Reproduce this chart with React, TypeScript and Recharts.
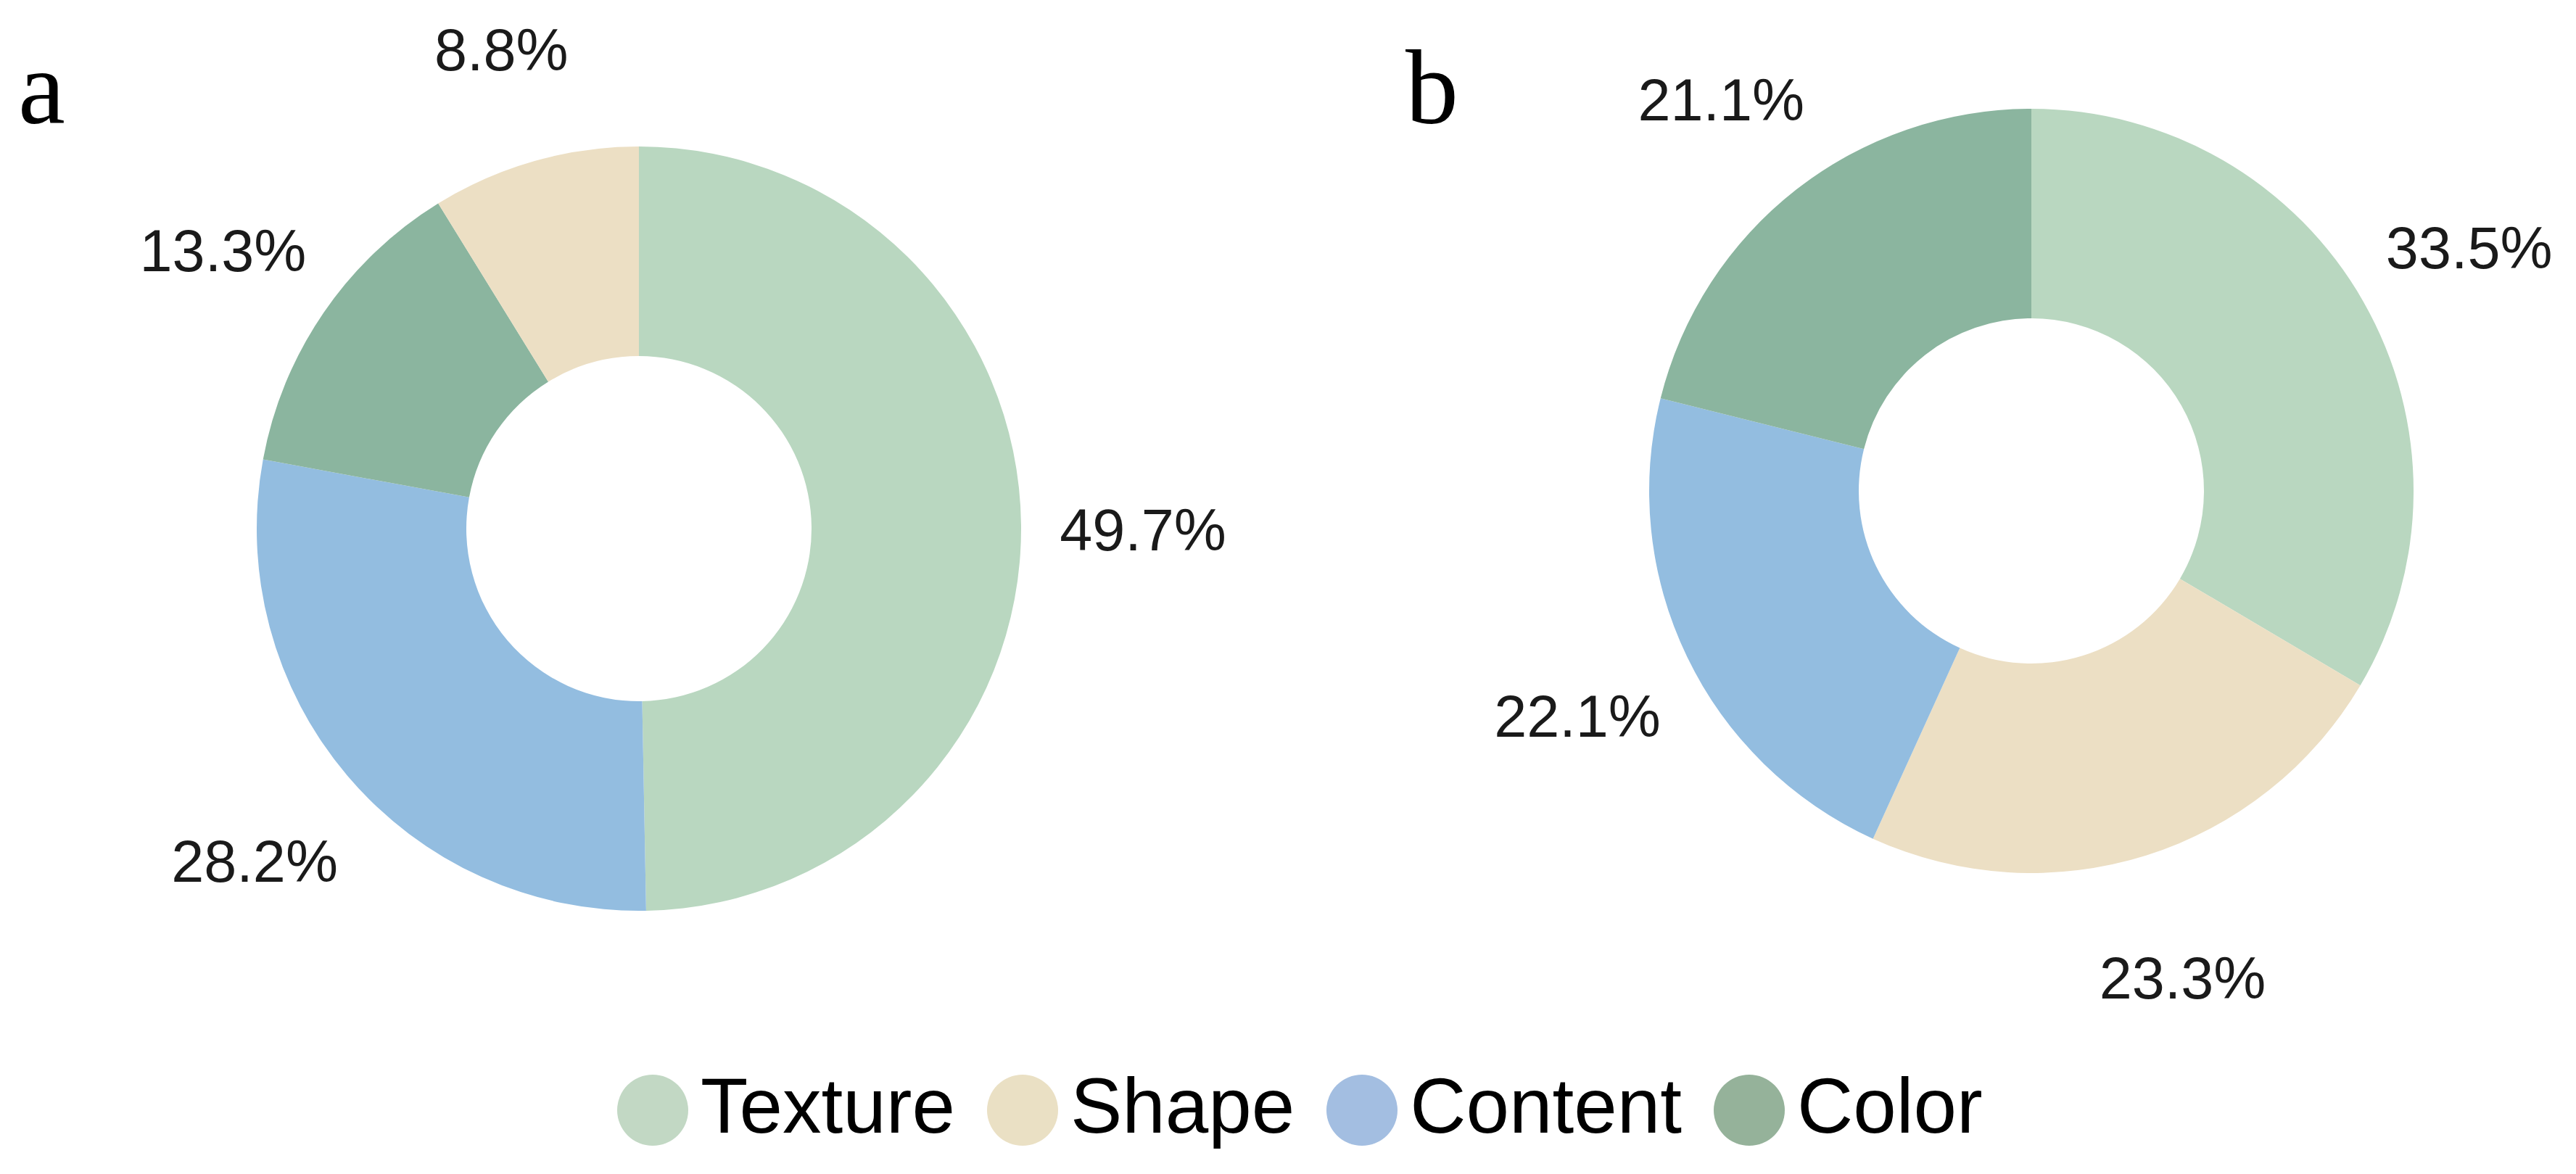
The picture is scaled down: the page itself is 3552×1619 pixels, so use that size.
import React from "react";
import { PieChart, Pie, Cell, Legend } from "recharts";

const categories = ["Texture", "Shape", "Content", "Color"];
// percentages per category, same order as categories
const valuesA = [49.7, 8.8, 28.2, 13.3];
const valuesB = [33.5, 23.3, 22.1, 21.1];
// clockwise slice order starting at 12 o'clock
const orderA = ["Texture", "Content", "Color", "Shape"];
const orderB = ["Texture", "Shape", "Content", "Color"];

const sliceColors: Record<string, string> = {
    Texture: "#B9D7C0",
    Shape: "#ECDFC4",
    Content: "#93BDE0",
    Color: "#8BB59F",
};

const legendColors: Record<string, string> = {
    Texture: "#C2D8C4",
    Shape: "#EAE0C4",
    Content: "#A3BEE1",
    Color: "#95B29A",
};

function buildData(values: number[], order: string[]) {
    return order.map((name) => ({
        name,
        value: values[categories.indexOf(name)],
    }));
}

const dataA = buildData(valuesA, orderA);
const dataB = buildData(valuesB, orderB);

const RADIAN = Math.PI / 180;

const renderLabel = (props: any) => {
    const { cx, cy, midAngle, outerRadius, value } = props;
    const r = outerRadius + 168;
    const x = cx + r * Math.cos(-midAngle * RADIAN);
    const y = cy + r * Math.sin(-midAngle * RADIAN) + 9;
    return (
        <text
            x={x}
            y={y}
            textAnchor="middle"
            dominantBaseline="central"
            fontSize={81}
            fill="#1a1a1a"
            fontFamily="'Liberation Sans', Arial, sans-serif"
        >
            {`${value.toFixed(1)}%`}
        </text>
    );
};

const renderLegend = () => (
    <div style={{ display: "flex", alignItems: "center" }}>
        {categories.map((c, i) => (
            <div
                key={c}
                style={{
                    display: "flex",
                    alignItems: "center",
                    marginRight: i < categories.length - 1 ? 44 : 0,
                }}
            >
                <div
                    style={{
                        width: 98,
                        height: 98,
                        borderRadius: "50%",
                        background: legendColors[c],
                        marginRight: 17,
                    }}
                />
                <span
                    style={{
                        fontFamily: "'Liberation Sans', Arial, sans-serif",
                        fontSize: 107,
                        lineHeight: "98px",
                        color: "#000",
                        position: "relative",
                        top: -6,
                    }}
                >
                    {c}
                </span>
            </div>
        ))}
    </div>
);

const panelLetter: React.CSSProperties = {
    position: "absolute",
    fontFamily: "'Liberation Serif', 'Times New Roman', serif",
    fontSize: 146,
    lineHeight: 1,
    color: "#000",
};

export default function App() {
    return (
        <div
            style={{
                position: "absolute",
                left: 0,
                top: 0,
                width: 3552,
                height: 1619,
                background: "#fff",
            }}
        >
            <PieChart
                width={3552}
                height={1619}
                margin={{ top: 0, right: 0, bottom: 0, left: 0 }}
            >
                <Pie
                    data={dataA}
                    dataKey="value"
                    nameKey="name"
                    cx={881}
                    cy={729}
                    innerRadius={238}
                    outerRadius={527}
                    startAngle={90}
                    endAngle={-270}
                    stroke="none"
                    label={renderLabel}
                    labelLine={false}
                    isAnimationActive={false}
                >
                    {dataA.map((d) => (
                        <Cell key={d.name} fill={sliceColors[d.name]} />
                    ))}
                </Pie>
                <Pie
                    data={dataB}
                    dataKey="value"
                    nameKey="name"
                    cx={2801}
                    cy={677}
                    innerRadius={238}
                    outerRadius={527}
                    startAngle={90}
                    endAngle={-270}
                    stroke="none"
                    label={renderLabel}
                    labelLine={false}
                    isAnimationActive={false}
                >
                    {dataB.map((d) => (
                        <Cell key={d.name} fill={sliceColors[d.name]} />
                    ))}
                </Pie>
                <Legend
                    content={renderLegend}
                    wrapperStyle={{
                        position: "absolute",
                        left: 851,
                        top: 1482,
                        bottom: "auto",
                        width: "auto",
                    }}
                />
            </PieChart>
            <div style={{ ...panelLetter, left: 25, top: 48 }}>a</div>
            <div style={{ ...panelLetter, left: 1938, top: 48 }}>b</div>
        </div>
    );
}
